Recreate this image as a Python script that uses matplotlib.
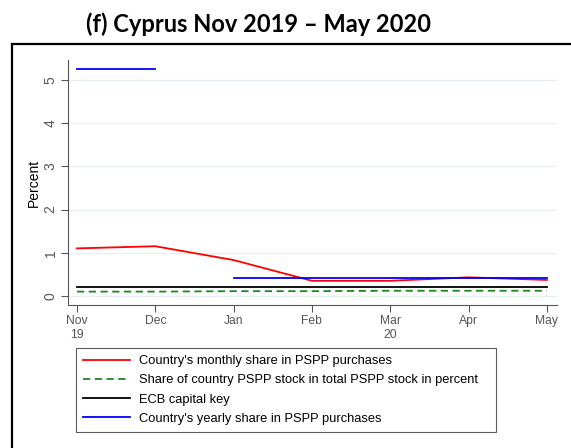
import matplotlib
matplotlib.use('Agg')
import matplotlib.pyplot as plt
from matplotlib.lines import Line2D

plt.rcParams['font.family'] = ['Liberation Sans', 'DejaVu Sans']

# --- Data ---
months = ['Nov\n19', 'Dec', 'Jan', 'Feb', 'Mar\n20', 'Apr', 'May']
monthly_share = [1.10, 1.15, 0.83, 0.35, 0.35, 0.43, 0.37]
stock_share = [0.10, 0.10, 0.11, 0.11, 0.12, 0.12, 0.12]
capital_key = [0.21, 0.21, 0.21, 0.21, 0.21, 0.21, 0.21]
yearly_2019 = [5.25, 5.25]
yearly_2020 = [0.42, 0.42, 0.42, 0.42, 0.42]
y_ticks = [0, 1, 2, 3, 4, 5]

C_GRID = '#E8F0F2'

fig = plt.figure(figsize=(5.71, 4.48), dpi=100)
W, H = 571, 448

# outer frame (left and top edges)
fig.add_artist(Line2D([12 / W, 12 / W], [0, 1 - 44 / H], color='black', lw=1.6))
fig.add_artist(Line2D([12 / W, 1], [1 - 44 / H, 1 - 44 / H], color='black', lw=1.6))

fig.text(258 / W, 1 - 24 / H, '(f) Cyprus Nov 2019 – May 2020', ha='center', va='center',
         fontsize=17, fontweight='bold', family=['Lato', 'DejaVu Sans'])

ax = fig.add_axes([68 / W, 1 - 305 / H, (557 - 68) / W, (305 - 60) / H])
x = list(range(len(months)))

ax.plot(x, monthly_share, color='#FF0000', lw=1.3, zorder=3)
ax.plot(x, stock_share, color='#1A8A1A', lw=1.3, ls=(0, (4, 2.5)), zorder=3)
ax.plot(x, capital_key, color='black', lw=1.3, zorder=3)
ax.plot(x[:2], yearly_2019, color='#0000FF', lw=1.3, zorder=3)
ax.plot(x[2:], yearly_2020, color='#0000FF', lw=1.3, zorder=3)

ax.set_xlim(-0.115, 6.13)
ax.set_ylim(-0.21, 5.46)
ax.set_xticks(x)
ax.set_xticklabels(months, fontsize=8.7, color='#333333', linespacing=1.15)
ax.set_yticks(y_ticks)
ax.set_yticklabels([str(v) for v in y_ticks], fontsize=10, rotation=90,
                   va='center', color='#333333')
ax.set_ylabel('Percent', fontsize=10, labelpad=2)
for v in y_ticks:
    ax.axhline(v, color=C_GRID, lw=1.0, zorder=0)

for s in ['top', 'right']:
    ax.spines[s].set_visible(False)
for s in ['left', 'bottom']:
    ax.spines[s].set_color('#555555')
    ax.spines[s].set_linewidth(0.8)
ax.tick_params(colors='#555555', length=5, width=0.8, pad=2.5)

handles = [
    Line2D([], [], color='#FF0000', lw=1.3),
    Line2D([], [], color='#1A8A1A', lw=1.3, ls=(0, (4, 2.5))),
    Line2D([], [], color='black', lw=1.3),
    Line2D([], [], color='#0000FF', lw=1.3),
]
labels = ["Country's monthly share in PSPP purchases",
          'Share of country PSPP stock in total PSPP stock in percent   ',
          'ECB capital key',
          "Country's yearly share in PSPP purchases"]
leg = fig.legend(handles, labels, loc='upper left',
                 bbox_to_anchor=(76 / W, 1 - 348 / H), fontsize=9.3,
                 frameon=True, fancybox=False, edgecolor='#333333',
                 handlelength=3.6, handletextpad=0.7, labelspacing=0.56,
                 borderpad=0.55, borderaxespad=0)
leg.get_frame().set_linewidth(0.8)

fig.savefig('out.png', dpi=100)
